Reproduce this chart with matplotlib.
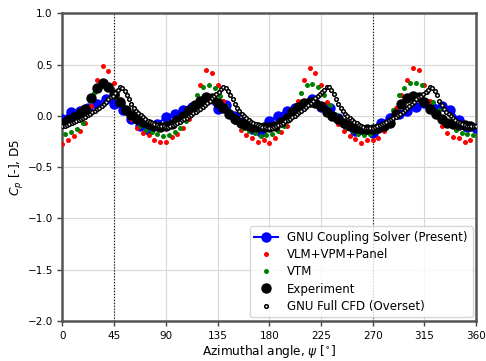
import numpy as np
import matplotlib
matplotlib.use('Agg')
import matplotlib.pyplot as plt

# GNU coupling solver (present), 7.5 deg step
psi_gnu = np.arange(0, 360.1, 7.5)
cp_gnu = [-0.03, 0.04, 0.05, 0.08, 0.12, 0.16, 0.12, 0.06, -0.03, -0.10, -0.14, -0.08,
          -0.01, 0.02, 0.06, 0.09, 0.12, 0.16, 0.07, 0.11, 0.00, -0.06, -0.13, -0.16,
          -0.05, 0.00, 0.05, 0.08, 0.12, 0.16, 0.09, 0.08, -0.02, -0.09, -0.15, -0.14,
          -0.17, -0.07, -0.02, 0.02, 0.05, 0.09, 0.13, 0.08, 0.10, 0.06, -0.04, -0.11,
          -0.12]

# VLM+VPM+Panel, 5 deg step
psi_vlm = np.arange(0, 360, 5.0)
cp_vlm = [-0.27, -0.24, -0.20, -0.15, -0.07, 0.10, 0.35, 0.49, 0.44, 0.32, 0.16, 0.05, -0.03, -0.12, -0.17, -0.19, -0.24, -0.25,
          -0.25, -0.21, -0.18, -0.12, -0.03, 0.12, 0.30, 0.45, 0.42, 0.30, 0.15, 0.03, -0.06, -0.14, -0.19, -0.22, -0.25, -0.24,
          -0.26, -0.22, -0.16, -0.10, 0.00, 0.15, 0.35, 0.47, 0.42, 0.30, 0.14, 0.02, -0.08, -0.15, -0.20, -0.23, -0.26, -0.24,
          -0.24, -0.22, -0.15, -0.08, 0.08, 0.20, 0.35, 0.47, 0.45, 0.30, 0.15, 0.02, -0.10, -0.17, -0.21, -0.22, -0.25, -0.24]

# VTM, 5 deg step
psi_vtm = np.arange(2.5, 360, 5.0)
cp_vtm = [-0.18, -0.16, -0.13, -0.07, 0.05, 0.22, 0.30, 0.31, 0.27, 0.20, 0.12, 0.04, -0.04, -0.10, -0.14, -0.16, -0.18, -0.20,
          -0.19, -0.16, -0.12, -0.05, 0.06, 0.20, 0.28, 0.30, 0.27, 0.19, 0.10, 0.02, -0.06, -0.12, -0.15, -0.17, -0.20, -0.19,
          -0.18, -0.15, -0.10, -0.03, 0.08, 0.22, 0.30, 0.31, 0.28, 0.20, 0.11, 0.02, -0.06, -0.12, -0.15, -0.18, -0.19, -0.18,
          -0.15, -0.12, -0.06, 0.06, 0.20, 0.27, 0.32, 0.32, 0.30, 0.23, 0.14, 0.06, -0.03, -0.09, -0.14, -0.17, -0.18, -0.19]

# Experiment, 5 deg step
psi_exp = np.arange(0, 360, 5.0)
cp_exp = [-0.07, -0.04, -0.01, 0.03, 0.07, 0.17, 0.27, 0.32, 0.28, 0.21, 0.14, 0.06, 0.01, -0.03, -0.06, -0.08, -0.10, -0.11,
          -0.10, -0.08, -0.04, 0.00, 0.06, 0.11, 0.15, 0.18, 0.17, 0.13, 0.08, 0.02, -0.03, -0.07, -0.09, -0.11, -0.11, -0.11,
          -0.11, -0.10, -0.06, -0.02, 0.04, 0.09, 0.13, 0.14, 0.13, 0.10, 0.04, 0.00, -0.03, -0.07, -0.10, -0.12, -0.13, -0.13,
          -0.13, -0.12, -0.10, -0.07, 0.02, 0.12, 0.17, 0.19, 0.18, 0.14, 0.07, 0.02, -0.03, -0.07, -0.08, -0.09, -0.09, -0.10]

# GNU full CFD (overset), 2 deg step
psi_cfd = np.arange(0, 360.1, 2.0)
cp_cfd = [-0.10, -0.10, -0.09, -0.08, -0.07, -0.06, -0.05, -0.04, -0.03, -0.02,
          -0.01, 0.01, 0.02, 0.04, 0.05, 0.07, 0.08, 0.10, 0.12, 0.14,
          0.16, 0.18, 0.19, 0.22, 0.25, 0.28, 0.27, 0.24, 0.20, 0.16,
          0.12, 0.08, 0.05, 0.03, 0.01, -0.01, -0.03, -0.05, -0.06, -0.07,
          -0.08, -0.09, -0.10, -0.10, -0.10,
          -0.11, -0.11, -0.10, -0.09, -0.08, -0.07, -0.06, -0.04, -0.03, -0.02,
          0.00, 0.01, 0.03, 0.04, 0.06, 0.07, 0.09, 0.11, 0.13, 0.15,
          0.17, 0.19, 0.21, 0.23, 0.26, 0.28, 0.27, 0.24, 0.20, 0.16,
          0.12, 0.08, 0.05, 0.02, 0.00, -0.02, -0.04, -0.06, -0.07, -0.08,
          -0.09, -0.10, -0.11, -0.11, -0.12,
          -0.12, -0.12, -0.11, -0.10, -0.09, -0.08, -0.07, -0.05, -0.04, -0.03,
          -0.01, 0.00, 0.02, 0.04, 0.05, 0.07, 0.09, 0.11, 0.13, 0.15,
          0.17, 0.19, 0.21, 0.23, 0.25, 0.28, 0.28, 0.25, 0.21, 0.16,
          0.12, 0.08, 0.05, 0.02, 0.00, -0.02, -0.04, -0.06, -0.07, -0.09,
          -0.10, -0.11, -0.12, -0.12, -0.12,
          -0.12, -0.11, -0.10, -0.09, -0.08, -0.07, -0.06, -0.04, -0.03, -0.02,
          -0.01, 0.01, 0.02, 0.04, 0.06, 0.08, 0.10, 0.12, 0.14, 0.16,
          0.18, 0.19, 0.21, 0.23, 0.25, 0.28, 0.27, 0.24, 0.20, 0.15,
          0.11, 0.07, 0.04, 0.02, 0.00, -0.02, -0.04, -0.06, -0.07, -0.08,
          -0.09, -0.10, -0.10, -0.10, -0.10,
          -0.10]

xticks = np.arange(0, 361, 45)
yticks = [-2.0, -1.5, -1.0, -0.5, 0.0, 0.5, 1.0]

fig = plt.figure(figsize=(4.86, 3.61), dpi=100)
ax = fig.add_axes([0.1286, 0.111, 0.851, 0.852])

ax.plot(psi_gnu, cp_gnu, '-o', color='blue', lw=1.5, ms=6.5, label='GNU Coupling Solver (Present)', zorder=3)
ax.plot(psi_vlm, cp_vlm, 'o', color='red', ms=3.6, mec='none', label='VLM+VPM+Panel', zorder=4)
ax.plot(psi_vtm, cp_vtm, 'o', color='green', ms=3.6, mec='none', label='VTM', zorder=4)
ax.plot(psi_exp, cp_exp, 'o', color='black', ms=6.5, label='Experiment', zorder=5)
ax.plot(psi_cfd, cp_cfd, 'o', mfc='white', mec='black', mew=1.1, ms=2.6, label='GNU Full CFD (Overset)', zorder=6)

ax.axvline(45, color='black', ls=':', lw=0.8, zorder=1)
ax.axvline(270, color='black', ls=':', lw=0.8, zorder=1)

ax.set_xlim(0, 360)
ax.set_ylim(-2.0, 1.0)
ax.set_xticks(xticks)
ax.set_yticks(yticks)
ax.grid(True, color='#d8d8d8', lw=0.8)
ax.set_axisbelow(True)
ax.tick_params(labelsize=7.5, width=1.0, length=3.5, color='#444444')
for s in ax.spines.values():
    s.set_linewidth(1.8)
    s.set_color('#555555')

ax.set_xlabel(r'Azimuthal angle, $\psi$ [$^{\circ}$]', fontsize=8.7, labelpad=2)
ax.set_ylabel(r'$C_p$ [-], D5', fontsize=8.7, labelpad=1)
ax.legend(loc='lower right', fontsize=8.5, labelspacing=0.35, borderaxespad=0.3)

fig.savefig('out.png', dpi=100)
